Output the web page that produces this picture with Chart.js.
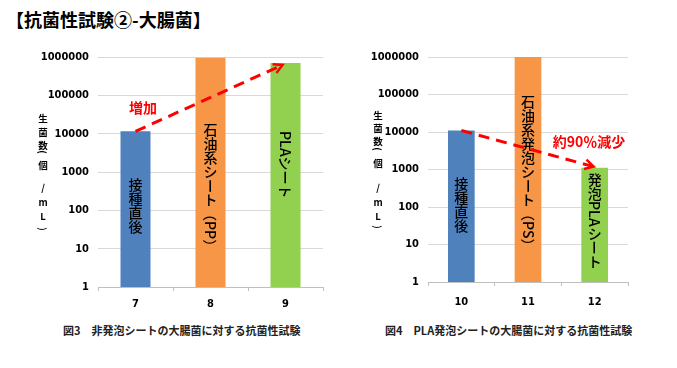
<!DOCTYPE html>
<html>
<head>
<meta charset="utf-8">
<script src="https://cdn.jsdelivr.net/npm/chart.js@4/dist/chart.umd.min.js"></script>
<style>
  html, body { margin: 0; padding: 0; background: #fff; }
  body { width: 677px; height: 368px; position: relative; overflow: hidden; font-family: 'Noto Sans CJK JP', sans-serif; }
  .heading { position: absolute; left: 6px; top: 8px; font-size: 18px; line-height: 22px; font-weight: bold; color: #000; white-space: nowrap; }
  .caption { position: absolute; top: 323px; font-size: 11px; line-height: 14px; font-weight: bold; color: #222; white-space: nowrap; }
  .box { position: absolute; top: 40px; height: 280px; }
</style>
</head>
<body>
<div class="heading">【抗菌性試験②-大腸菌】</div>
<div class="box" style="left:0px;width:340px;"><canvas id="c1"></canvas></div>
<div class="box" style="left:345px;width:332px;"><canvas id="c2"></canvas></div>
<div class="caption" style="left:63px;">図3　非発泡シートの大腸菌に対する抗菌性試験</div>
<div class="caption" style="left:385px;">図4　PLA発泡シートの大腸菌に対する抗菌性試験</div>
<script>
// ---- data ----
const leftCats = ['7', '8', '9'];
const leftVals = [11500, 950000, 700000];
const rightCats = ['10', '11', '12'];
const rightVals = [11000, 1000000, 1120];
const yTickVals = [1, 10, 100, 1000, 10000, 100000, 1000000];
const leftBarText = ['接種直後', '石油系シート（PP）', 'PLAシート'];
const rightBarText = ['接種直後', '石油系発泡シート（PS）', '発泡PLAシート'];
const yTitleChars = ['生', '菌', '数', '(', '個', '/', 'm', 'L', ')'];
const leftNote = '増加';
const rightNote = '約90％減少';

const barColors = ['#4F81BD', '#F79646', '#92D050'];
const CJK = "'Noto Sans CJK JP', sans-serif";
const NUM = "'Liberation Sans Narrow', 'DejaVu Sans Condensed', 'Liberation Sans', sans-serif";

function drawVertical(ctx, text, cx, top, size, rotateAll) {
  ctx.save();
  ctx.fillStyle = '#000';
  ctx.font = '500 ' + size + 'px ' + CJK;
  if (rotateAll) {
    ctx.translate(cx, top);
    ctx.rotate(Math.PI / 2);
    ctx.textAlign = 'left';
    ctx.textBaseline = 'middle';
    ctx.fillText(text, 0, 0);
    ctx.restore();
    return;
  }
  let y = top;
  for (const ch of text) {
    const rot = /[A-Za-z0-9（）()ー\-]/.test(ch);
    if (rot) {
      const w = ctx.measureText(ch).width;
      ctx.save();
      ctx.translate(cx, y + w / 2);
      ctx.rotate(Math.PI / 2);
      ctx.textAlign = 'center';
      ctx.textBaseline = 'middle';
      ctx.fillText(ch, 0, 0);
      ctx.restore();
      y += w;
    } else {
      ctx.textAlign = 'center';
      ctx.textBaseline = 'middle';
      ctx.fillText(ch, cx, y + size / 2);
      y += size;
    }
  }
  ctx.restore();
}

const decorPlugin = {
  id: 'decor',
  afterDatasetsDraw(chart, args, opts) {
    const ctx = chart.ctx;
    const meta = chart.getDatasetMeta(0);
    const xs = chart.scales.x, ys = chart.scales.y;
    const vals = chart.data.datasets[0].data;
    // bar texts
    opts.barText.forEach((t, i) => {
      const el = meta.data[i];
      drawVertical(ctx, t, el.x, opts.textTop[i], 14, opts.rotateAll[i]);
    });
    // y axis title (stacked)
    ctx.save();
    ctx.fillStyle = '#000';
    ctx.font = 'bold 9.5px ' + CJK;
    yTitleChars.forEach((ch, k) => {
      const y = opts.titleTop + opts.titleOffsets[k];
      if (ch === '(' || ch === ')') {
        ctx.save();
        ctx.translate(opts.titleX, y);
        ctx.rotate(Math.PI / 2);
        ctx.textAlign = 'center'; ctx.textBaseline = 'middle';
        ctx.fillText(ch, 0, 0);
        ctx.restore();
      } else {
        ctx.textAlign = 'center'; ctx.textBaseline = 'middle';
        ctx.fillText(ch, opts.titleX, y);
      }
    });
    ctx.restore();
    // arrow from bar top to bar top
    const a = opts.arrow;
    const x1 = xs.getPixelForValue(a.from), y1 = ys.getPixelForValue(vals[a.from]);
    const x2 = xs.getPixelForValue(a.to) + a.dx, y2 = ys.getPixelForValue(vals[a.to]) + a.dy;
    ctx.save();
    ctx.strokeStyle = '#FF0000';
    ctx.lineWidth = 3;
    ctx.setLineDash([11, 7]);
    ctx.beginPath();
    ctx.moveTo(x1, y1);
    ctx.lineTo(x2, y2);
    ctx.stroke();
    ctx.setLineDash([]);
    const ang = Math.atan2(y2 - y1, x2 - x1);
    const L = 10, sp = 0.5;
    ctx.lineWidth = 2.5;
    ctx.beginPath();
    ctx.moveTo(x2 - L * Math.cos(ang - sp), y2 - L * Math.sin(ang - sp));
    ctx.lineTo(x2, y2);
    ctx.lineTo(x2 - L * Math.cos(ang + sp), y2 - L * Math.sin(ang + sp));
    ctx.stroke();
    // note text
    ctx.fillStyle = '#FF0000';
    ctx.font = 'bold 14px ' + CJK;
    ctx.textAlign = 'center';
    ctx.textBaseline = 'middle';
    ctx.fillText(opts.note, opts.noteX, opts.noteY);
    ctx.restore();
  }
};

function makeChart(id, cats, vals, cfg) {
  return new Chart(document.getElementById(id), {
    type: 'bar',
    data: {
      labels: cats,
      datasets: [{
        data: vals,
        backgroundColor: barColors,
        borderWidth: 0,
        barPercentage: 0.4,
        categoryPercentage: 1.0
      }]
    },
    options: {
      responsive: true,
      maintainAspectRatio: false,
      animation: false,
      events: [],
      layout: { padding: { left: 0, right: cfg.padRight, top: 17, bottom: 0 } },
      plugins: {
        legend: { display: false },
        tooltip: { enabled: false },
        decor: cfg.decor
      },
      scales: {
        x: {
          grid: { display: true, drawOnChartArea: false, drawTicks: true, tickLength: 4, color: '#BFBFBF', offset: true },
          border: { display: true, color: '#BFBFBF', width: 1 },
          ticks: { color: '#000', padding: cfg.xPad, font: { family: NUM, size: 11, weight: 'bold' } },
          afterFit(s) { s.height = cfg.xHeight; }
        },
        y: {
          type: 'logarithmic',
          min: 1,
          max: 1000000,
          grid: { color: '#D9D9D9', lineWidth: 1, drawTicks: false },
          border: { display: false },
          ticks: {
            color: '#000',
            padding: 9,
            font: { family: NUM, size: 11, weight: 'bold' },
            callback: (v) => String(v)
          },
          afterBuildTicks(s) { s.ticks = yTickVals.map(v => ({ value: v })); },
          afterFit(s) { s.width = cfg.yWidth; }
        }
      }
    },
    plugins: [decorPlugin]
  });
}

makeChart('c1', leftCats, leftVals, {
  padRight: 17, xHeight: 33, yWidth: 98, xPad: 7,
  decor: {
    barText: leftBarText,
    textTop: [138, 83, 91],
    rotateAll: [false, false, true],
    titleX: 43, titleTop: 78,
    titleOffsets: [0, 14, 27, 34, 47, 69, 84, 98, 111],
    arrow: { from: 0, to: 2, dx: -3, dy: 2 },
    note: leftNote, noteX: 143, noteY: 67.5
  }
});

makeChart('c2', rightCats, rightVals, {
  padRight: 49, xHeight: 38, yWidth: 83, xPad: 10,
  decor: {
    barText: rightBarText,
    textTop: [137, 55, 133],
    rotateAll: [false, false, false],
    titleX: 33, titleTop: 75,
    titleOffsets: [0, 13, 26, 34, 48, 72, 87, 101, 112],
    arrow: { from: 0, to: 2, dx: -1, dy: -1 },
    note: rightNote, noteX: 244, noteY: 101.5
  }
});
</script>
</body>
</html>
